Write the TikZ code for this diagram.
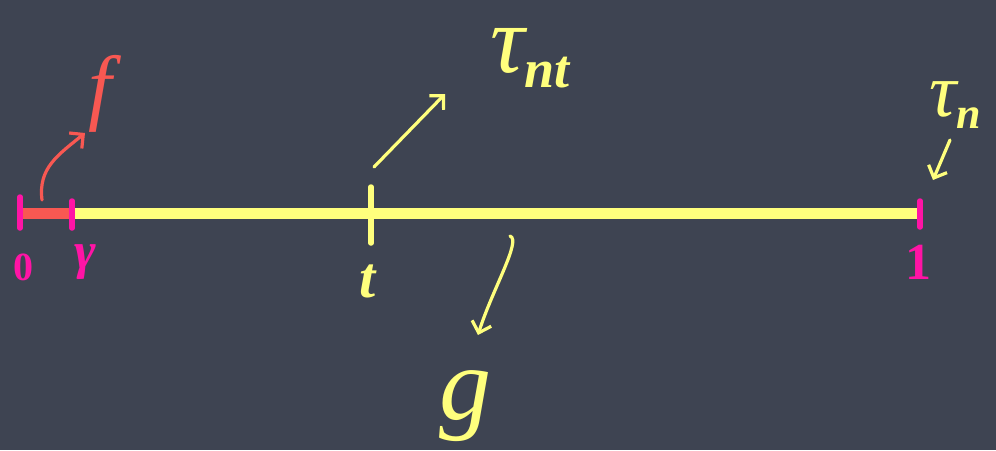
\documentclass[tikz,border=0pt]{standalone}
\usepackage{fontspec}
\setmainfont{Liberation Serif}
\usetikzlibrary{arrows.meta}
\definecolor{board}{RGB}{62,68,82}
\definecolor{chalkyellow}{RGB}{255,255,125}
\definecolor{chalkpink}{RGB}{255,20,165}
\definecolor{chalkred}{RGB}{248,88,82}
\tikzset{
  seg/.style={line width=11pt},
  tickmark/.style={line width=5.5pt, line cap=round},
  arr/.style={line width=3.2pt, line cap=round, -{Straight Barb[length=10pt,width=20pt,line width=3.2pt]}},
  lab/.style={inner sep=0pt, outer sep=0pt}
}
\newcommand{\fs}[1]{\fontsize{#1}{#1}\selectfont\itshape}
\newcommand{\fsb}[1]{\fontsize{#1}{#1}\selectfont\bfseries\itshape}
\newcommand{\sub}[3]{\raisebox{-#1}{\fontsize{#2}{#2}\selectfont\bfseries\itshape #3}}
\begin{document}
\begin{tikzpicture}[x=1pt,y=-1pt]
\fill[board] (0,0) rectangle (996,450);
\useasboundingbox (0,0) rectangle (996,450);
% axis points
\coordinate (p0) at (20,213);
\coordinate (pg) at (72,213);
\coordinate (pt) at (371,213);
\coordinate (p1) at (920,213);
% segments
\draw[seg, chalkred] (p0) -- (pg);
\draw[seg, chalkyellow] (pg) -- (p1);
% ticks
\draw[tickmark, chalkpink] (p0) ++(0,-16) -- ++(0,31);
\draw[tickmark, chalkpink] (pg) ++(0,-12) -- ++(0,27);
\draw[tickmark, chalkyellow] (pt) ++(0,-26) -- ++(0,56);
\draw[tickmark, chalkpink] (p1) ++(0,-12) -- ++(0,26);
% labels under the axis
\node[lab, text=chalkpink, font=\fsb{40}\upshape] (l0) at (23,267) {0};
\node[lab, text=chalkpink, font=\fsb{52}] (lgam) at (85,262) {γ};
\node[lab, text=chalkyellow, font=\fsb{58}] (lt) at (368,281) {t};
\node[lab, text=chalkpink, font=\fsb{52}\upshape] (l1) at (918,262) {1};
% labels above / below
\node[lab, text=chalkred, font=\fs{84}] (lf) at (100,94) {f};
\node[lab, text=chalkyellow, font=\fs{96}, anchor=base, text height=48pt, text depth=26pt] (ltnt) at (530,72) {τ\sub{15pt}{54}{nt}};
\node[lab, text=chalkyellow, font=\fs{76}] (ltn) at (955,105) {τ\sub{12pt}{44}{n}};
\node[lab, text=chalkyellow, font=\fs{104}] (lg) at (465,406) {g};
% arrow ends
\coordinate (fa) at (42,200);
\coordinate (fb) at (85,133);
\coordinate (ta) at (374,167);
\coordinate (tb) at (445,94);
\coordinate (na) at (950,140);
\coordinate (nb) at (933,180);
\coordinate (ga) at (510,236);
\coordinate (gb) at (478,335);
% arrows
\draw[arr, chalkred] (fa) .. controls (38,168) and (58,155) .. (fb);
\draw[arr, chalkyellow] (ta) -- (tb);
\draw[arr, chalkyellow] (na) -- (nb);
\draw[arr, chalkyellow] (ga) .. controls (522,240) and (492,290) .. (gb);
\end{tikzpicture}
\end{document}
